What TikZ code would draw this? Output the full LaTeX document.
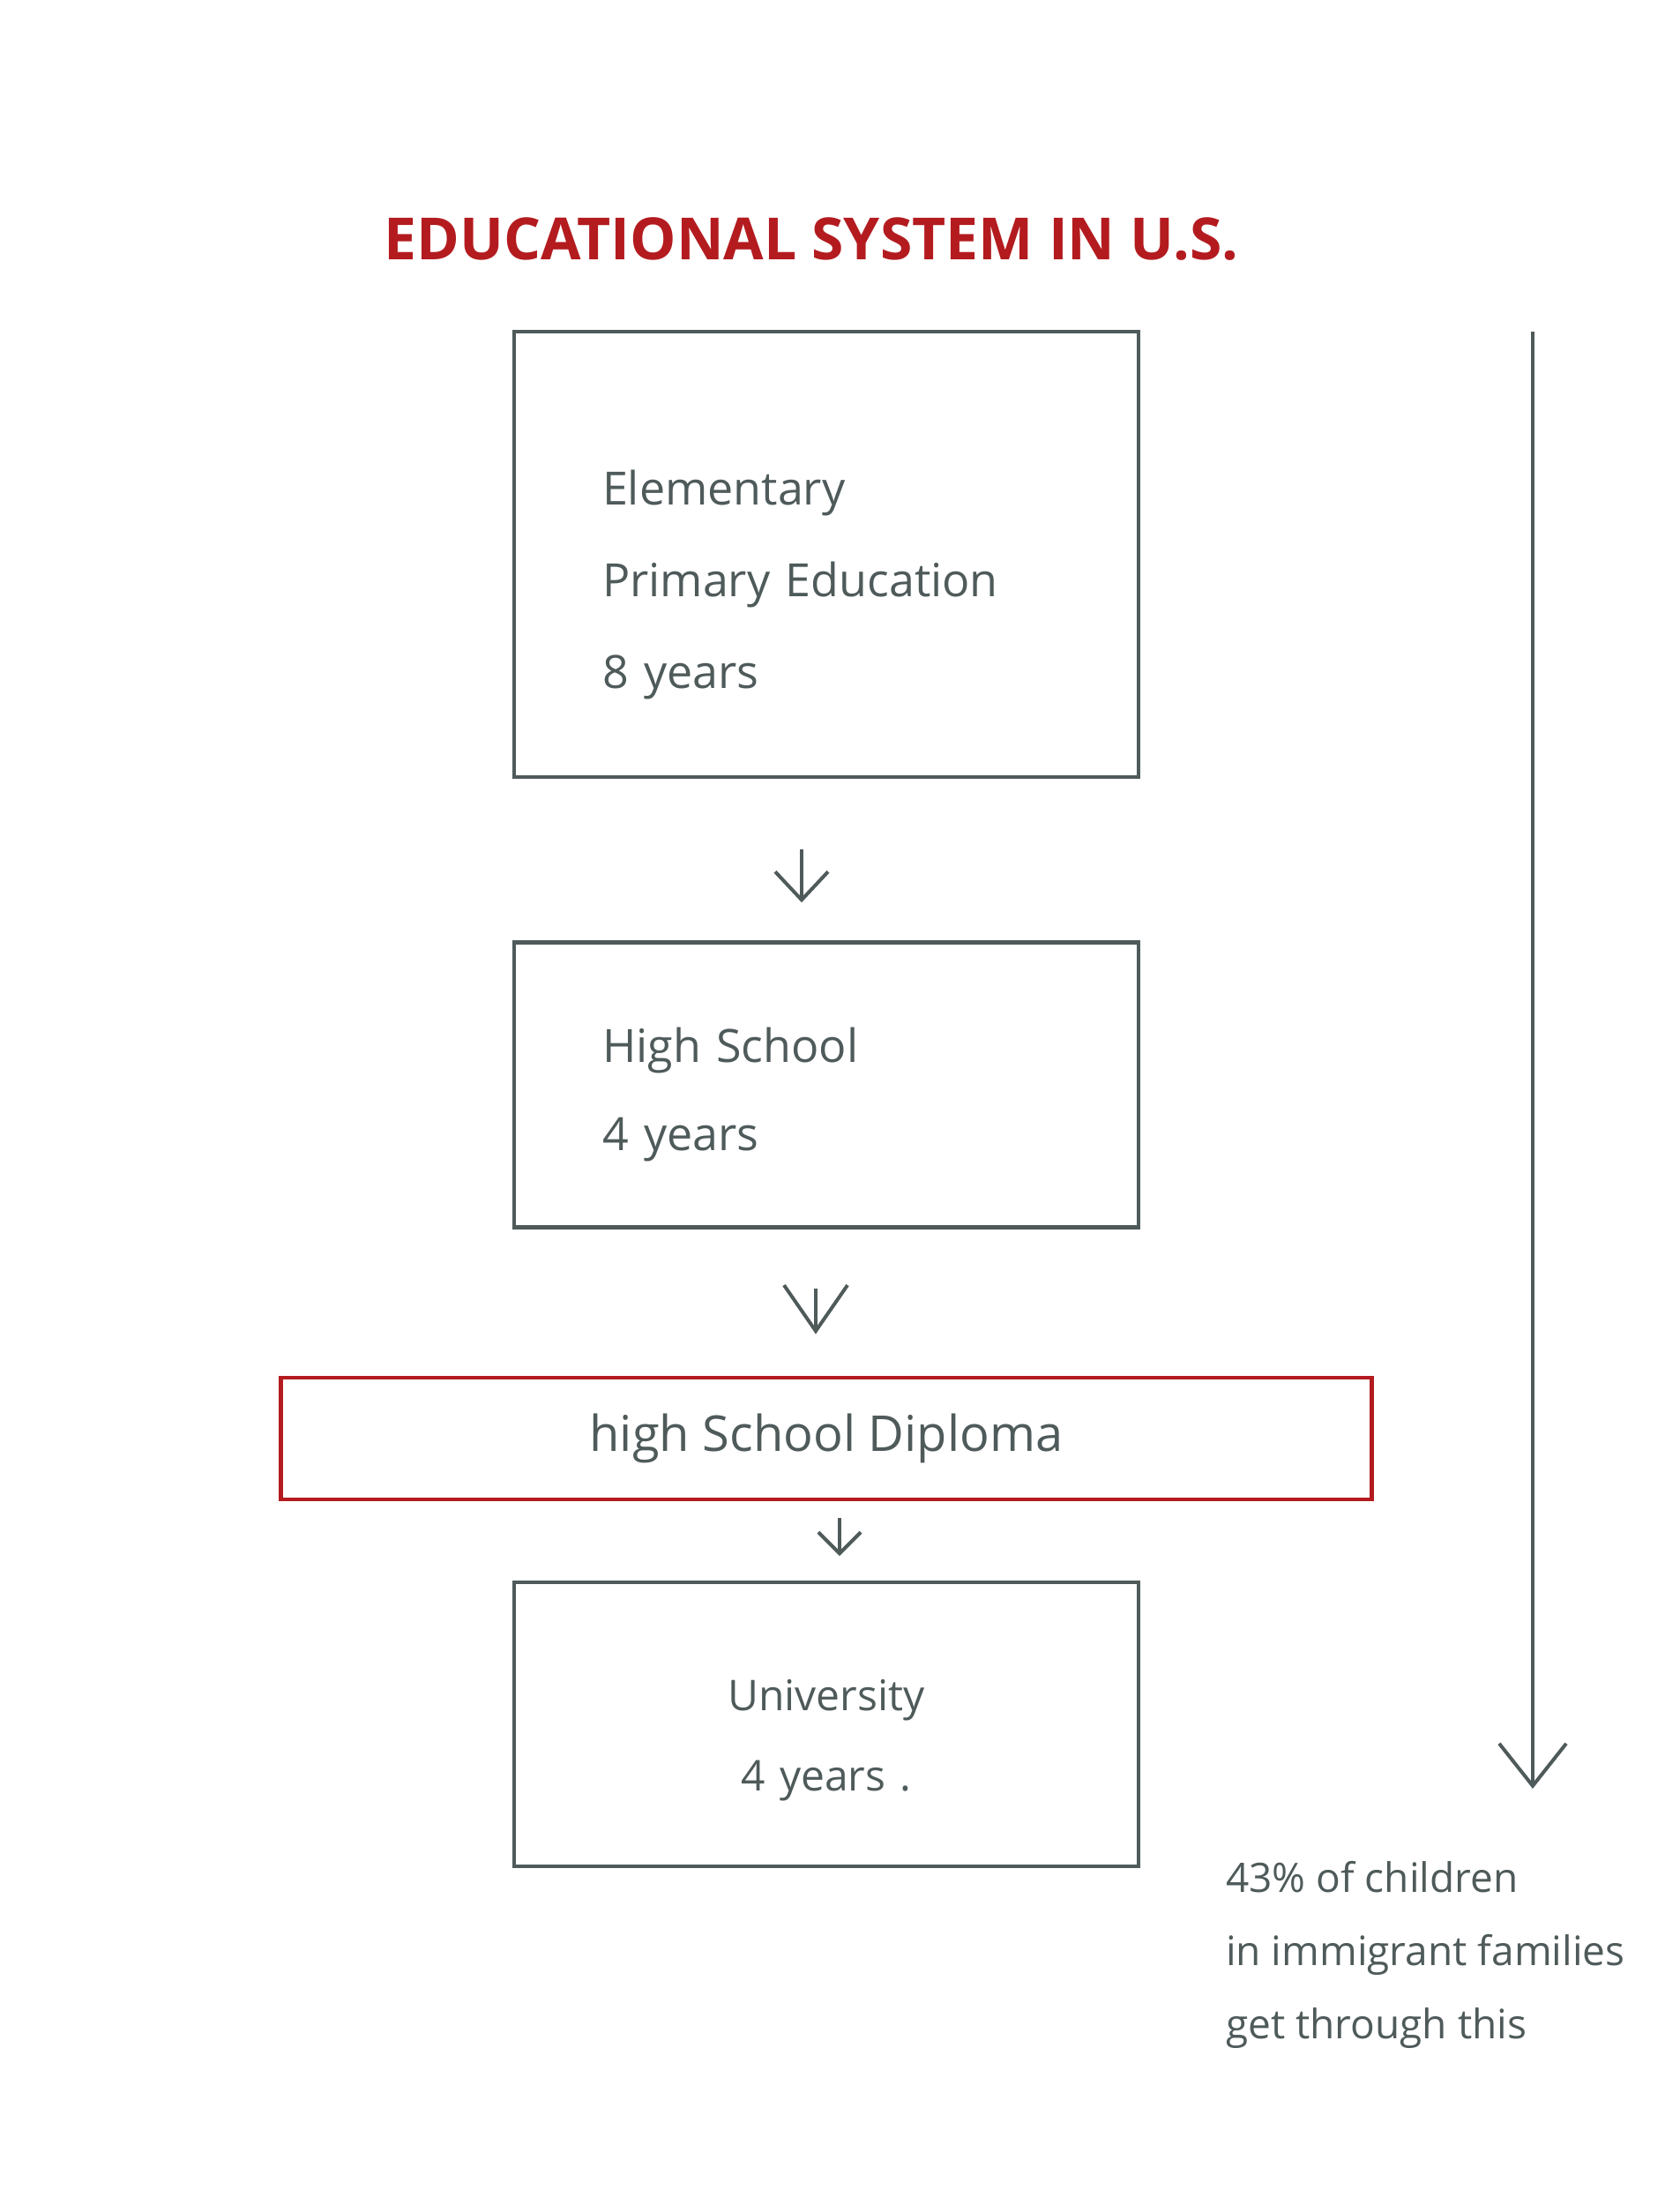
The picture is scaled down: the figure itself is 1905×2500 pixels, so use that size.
\documentclass[tikz,border=0pt]{standalone}
\usepackage{fontspec}
\setmainfont{Open Sans}
\usepackage{xcolor}
\usetikzlibrary{positioning,arrows.meta}
\definecolor{ink}{HTML}{4F5A5A}
\definecolor{penred}{HTML}{B31B1F}
\newcommand{\topgap}[1]{\rule{0pt}{#1}}

\begin{document}
\begin{tikzpicture}[x=0.25pt,y=-0.25pt,>={Straight Barb[length=8pt,width=15pt]},every node/.style={font=\fontsize{13}{26}\selectfont,text=ink}]
\tikzstyle{blk}=[draw=ink,line width=1.1pt,minimum width=177pt,align=left,text width=127pt]
\tikzstyle{redblk}=[draw=penred,line width=1.1pt,minimum width=309.25pt,minimum height=34.5pt,align=center]
\useasboundingbox (0,0) rectangle (1905,2500);
\node[font=\bfseries\fontsize{16.5}{18}\selectfont,text=penred] (title) at (920,271) {EDUCATIONAL SYSTEM IN U.S.};
\node[blk,minimum height=126.25pt] (elem) at (937,628.5) {\topgap{27pt}Elementary\\Primary Education\\8 years};
\node[blk,minimum height=80.75pt,below=45.75pt of elem,font=\fontsize{13}{25}\selectfont] (high) {\topgap{15.5pt}High School\\4 years};
\node[redblk,below=41.5pt of high,font=\fontsize{14}{20}\selectfont] (dipl) {high School Diploma};
\node[blk,minimum height=80.5pt,below=22.5pt of dipl,align=center,font=\fontsize{12}{22.75}\selectfont] (univ) {\topgap{18pt}University\\4 years .};
\node[anchor=west,align=left,font=\fontsize{11.5}{20.75}\selectfont] (note) at (1376,2216) {43\% of children\\in immigrant families\\get through this};
\coordinate (ltop) at (1738,376);
\coordinate (lbot) at (1738,2028);
\draw[->,ink,line width=1pt,shorten <=20pt,shorten >=10.75pt] ([xshift=-7pt]elem.south) -- ([xshift=-7pt]high.north);
\draw[-{Straight Barb[length=13pt,width=18pt]},ink,line width=1pt,shorten <=16.75pt,shorten >=11.75pt] ([xshift=-3pt]high.south) -- ([xshift=-3pt]dipl.north);
\draw[-{Straight Barb[length=6pt,width=12pt]},ink,line width=1pt,shorten <=4.75pt,shorten >=7pt] ([xshift=3.75pt]dipl.south) -- ([xshift=3.75pt]univ.north);
\draw[-{Straight Barb[length=12pt,width=19pt]},ink,line width=1pt] (ltop) -- (lbot);
\end{tikzpicture}
\end{document}
